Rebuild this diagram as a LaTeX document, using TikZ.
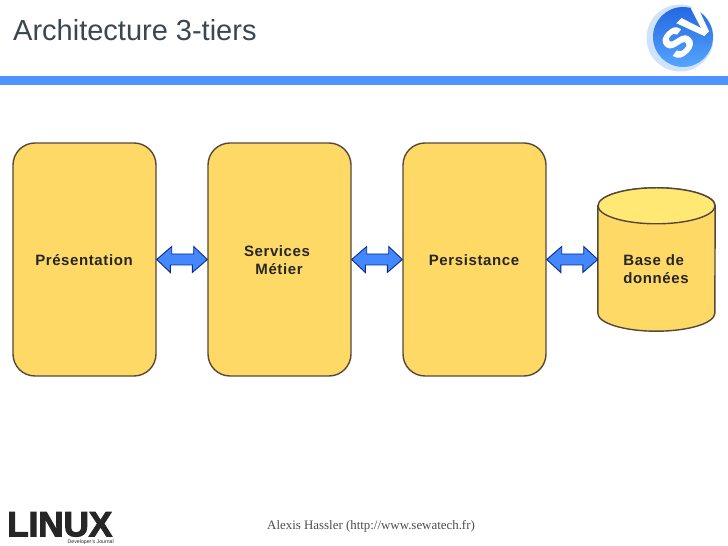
\documentclass[tikz,border=0pt]{standalone}
\usepackage{fontspec}
\setmainfont{Liberation Sans}
\newfontfamily\footfont{Liberation Serif}
\newfontfamily\logofont[BoldFeatures={FakeBold=3}]{Liberation Sans}
\newfontfamily\labelfont[LetterSpace=4]{Liberation Sans}
\usetikzlibrary{calc}
\definecolor{boxfill}{HTML}{FFD966}
\definecolor{boxedge}{HTML}{54483A}
\definecolor{dbtop}{HTML}{FFE873}
\definecolor{barblue}{HTML}{4D94FF}
\definecolor{arrowblue}{HTML}{4488FF}
\definecolor{arrowedge}{HTML}{0A2A8C}
\definecolor{titlegray}{HTML}{3C4650}
\definecolor{logotop}{HTML}{2468E0}
\definecolor{logobottom}{HTML}{55A5FF}
\definecolor{logolight}{HTML}{CFE3FA}
\newcommand{\bothway}[2]{\draw[bothway] (#1.east) -- ++(1.5,1.3) -- ++(0,-0.75) -- ++(2.2,0) -- ++(0,0.75) -- (#2.west) -- ++(-1.5,-1.3) -- ++(0,0.75) -- ++(-2.2,0) -- ++(0,-0.75) -- cycle;}
\begin{document}
\begin{tikzpicture}[x=10pt, y=10pt,
        tier/.style={draw=boxedge, fill=boxfill, line width=1.4pt, rounded corners=22pt, minimum width=143pt, minimum height=233pt, inner sep=0pt},
        bothway/.style={draw=arrowedge, fill=arrowblue, line width=0.9pt, line join=miter},
        dbbody/.style={draw=boxedge, fill=boxfill, line width=1.4pt},
        label/.style={text=black!85, font=\labelfont\bfseries\fontsize{15}{18}\selectfont}]
    \useasboundingbox (0,0) rectangle (72.8,54.6);
    \node[anchor=west, text=titlegray, font=\fontsize{29}{34}\selectfont, inner sep=0pt] (title) at (1.3,51.6) {Architecture 3-tiers};
    \fill[barblue] (0,47) rectangle (72.8,46.1);
    % logo
    \fill[logolight] (68,50.8) circle (3.35);
    \shade[top color=logotop, bottom color=logobottom] (68.3,50.9) circle (3);
    \node[rotate=45, text=white, font=\logofont\bfseries\fontsize{40}{40}\selectfont, inner sep=0pt] (sv) at (68.7,51.3) {SV};
    % tiers
    \node[tier] (pres) at (8.45,28.65) {};
    \node[tier] (serv) at (27.95,28.65) {};
    \node[tier] (pers) at (47.45,28.65) {};
    \node[minimum width=117pt, minimum height=143pt, inner sep=0pt] (db) at (65.65,28.65) {};
    \draw[dbbody] ($(db.north west)+(0,-1.8)$) -- ($(db.south west)+(0,1.8)$) arc[start angle=180, end angle=360, x radius=5.85, y radius=1.8] -- ($(db.north east)+(0,-1.8)$) arc[start angle=0, end angle=180, x radius=5.85, y radius=1.8] -- cycle;
    \draw[dbbody, fill=dbtop] ($(db.north)+(0,-1.8)$) ellipse (5.85 and 1.8);
    \node[label] (preslabel) at (8.4,28.6) {Présentation};
    \node[label, align=center] (servlabel) at (27.7,28.6) {Services\\\hspace*{4pt}Métier};
    \node[label] (perslabel) at (47.4,28.6) {Persistance};
    \node[label, align=left] (dblabel) at (65.6,27.7) {Base de\\données};
    \bothway{pres}{serv}
    \bothway{serv}{pers}
    \bothway{pers}{db}
    % footer
    \node[anchor=west, text=black!70, inner sep=0pt] (author) at (26.7,2) {\footfont\fontsize{12.9}{15}\selectfont Alexis Hassler (http://www.sewatech.fr)};
    \node[anchor=south west, text=black!85, text depth=0pt, inner sep=0pt] (linux) at (0.7,0.95) {\logofont\bfseries\fontsize{35}{35}\selectfont LINUX};
    \node[anchor=east, text=black!85, inner sep=0pt] (journal) at (11.4,0.42) {\fontsize{5.2}{6}\selectfont Developer's Journal};
\end{tikzpicture}
\end{document}
